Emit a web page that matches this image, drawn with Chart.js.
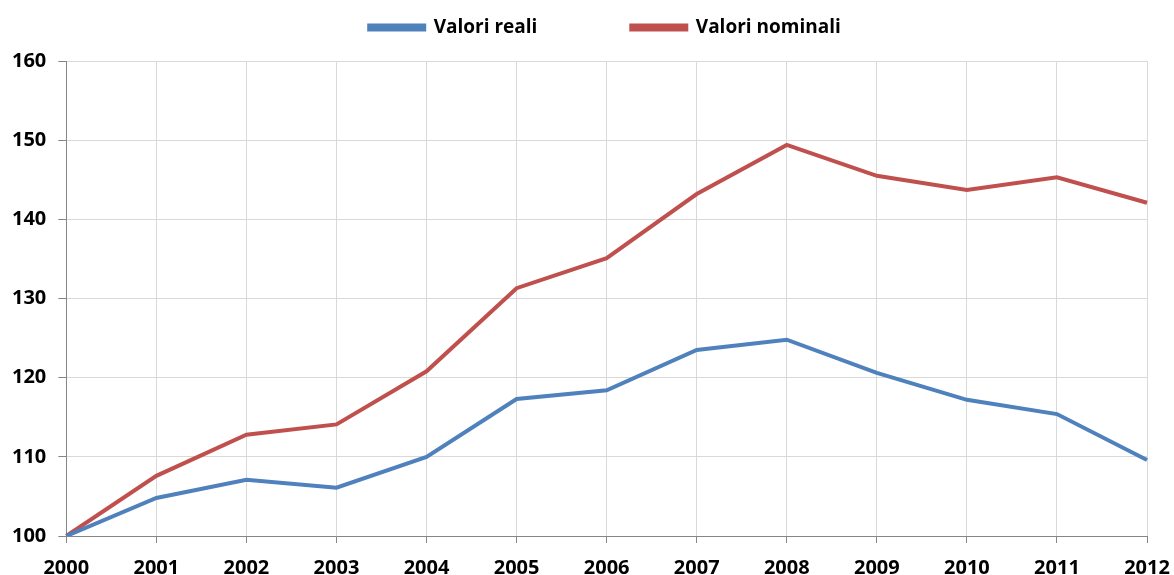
<!DOCTYPE html>
<html>
<head>
<meta charset="utf-8">
<script src="https://cdn.jsdelivr.net/npm/chart.js@4"></script>
<style>
  html, body { margin: 0; padding: 0; background: #fff; }
  #wrap { width: 1174px; height: 575px; }
</style>
</head>
<body>
<div id="wrap"><canvas id="chart"></canvas></div>
<script>
// dati
const anni = ["2000", "2001", "2002", "2003", "2004", "2005", "2006", "2007", "2008", "2009", "2010", "2011", "2012"];
const valoriReali = [100, 104.8, 107.1, 106.1, 110.0, 117.3, 118.4, 123.5, 124.8, 120.6, 117.2, 115.4, 109.6];
const valoriNominali = [100, 107.6, 112.8, 114.1, 120.8, 131.3, 135.1, 143.2, 149.4, 145.5, 143.7, 145.3, 142.1];
const yMin = 100, yMax = 160, yStep = 10;

const font = { family: "'Open Sans', sans-serif", weight: "bold", size: 20 };

// spazio extra sotto la legenda, e legenda un po' spostata a destra
const legendGap = {
  id: "legendGap",
  beforeInit(chart) {
    const fit = chart.legend.fit;
    chart.legend.fit = function () {
      fit.call(this);
      this.height += 14;
    };
  },
  beforeDraw(chart) {
    chart.legend.left = 36;
    chart.legend.right = chart.width;
  },
};

const ctx = document.getElementById("chart").getContext("2d");
const chart = new Chart(ctx, {
  type: "line",
  data: {
    labels: anni,
    datasets: [
      {
        label: "Valori reali",
        data: valoriReali,
        borderColor: "#4F81BD",
        backgroundColor: "#4F81BD",
        borderWidth: 4,
        pointRadius: 0,
        tension: 0,
        fill: false,
      },
      {
        label: "Valori nominali",
        data: valoriNominali,
        borderColor: "#C0504D",
        backgroundColor: "#C0504D",
        borderWidth: 4,
        pointRadius: 0,
        tension: 0,
        fill: false,
      },
    ],
  },
  options: {
    responsive: true,
    maintainAspectRatio: false,
    animation: false,
    layout: { padding: { left: 0, right: 0, top: 8, bottom: -18 } },
    plugins: {
      legend: {
        position: "top",
        labels: {
          boxWidth: 55,
          boxHeight: 4,
          padding: 10,
          color: "#000",
          font: { family: "'Open Sans', sans-serif", weight: "bold", size: 19 },
          generateLabels(chart) {
            const items = Chart.defaults.plugins.legend.labels.generateLabels(chart);
            // allarga la prima voce per distanziare le due voci
            items[0].text = items[0].text + "\u00a0".repeat(17);
            return items;
          },
        },
      },
      tooltip: { enabled: false },
    },
    scales: {
      x: {
        offset: false,
        grid: { color: "#d9d9d9", tickColor: "#868686", tickLength: 7, lineWidth: 1 },
        border: { color: "#868686", width: 1 },
        ticks: { color: "#000", font: font, padding: 13, maxRotation: 0, autoSkip: false },
        afterFit(scale) {
          // spazio a destra per l'ultima etichetta
          scale.paddingRight = 27;
        },
      },
      y: {
        min: yMin,
        max: yMax,
        grid: { color: "#d9d9d9", tickColor: "#868686", tickLength: 8, lineWidth: 1 },
        border: { color: "#868686", width: 1 },
        ticks: { stepSize: yStep, color: "#000", font: font, padding: 12 },
      },
    },
  },
  plugins: [legendGap],
});
</script>
</body>
</html>
